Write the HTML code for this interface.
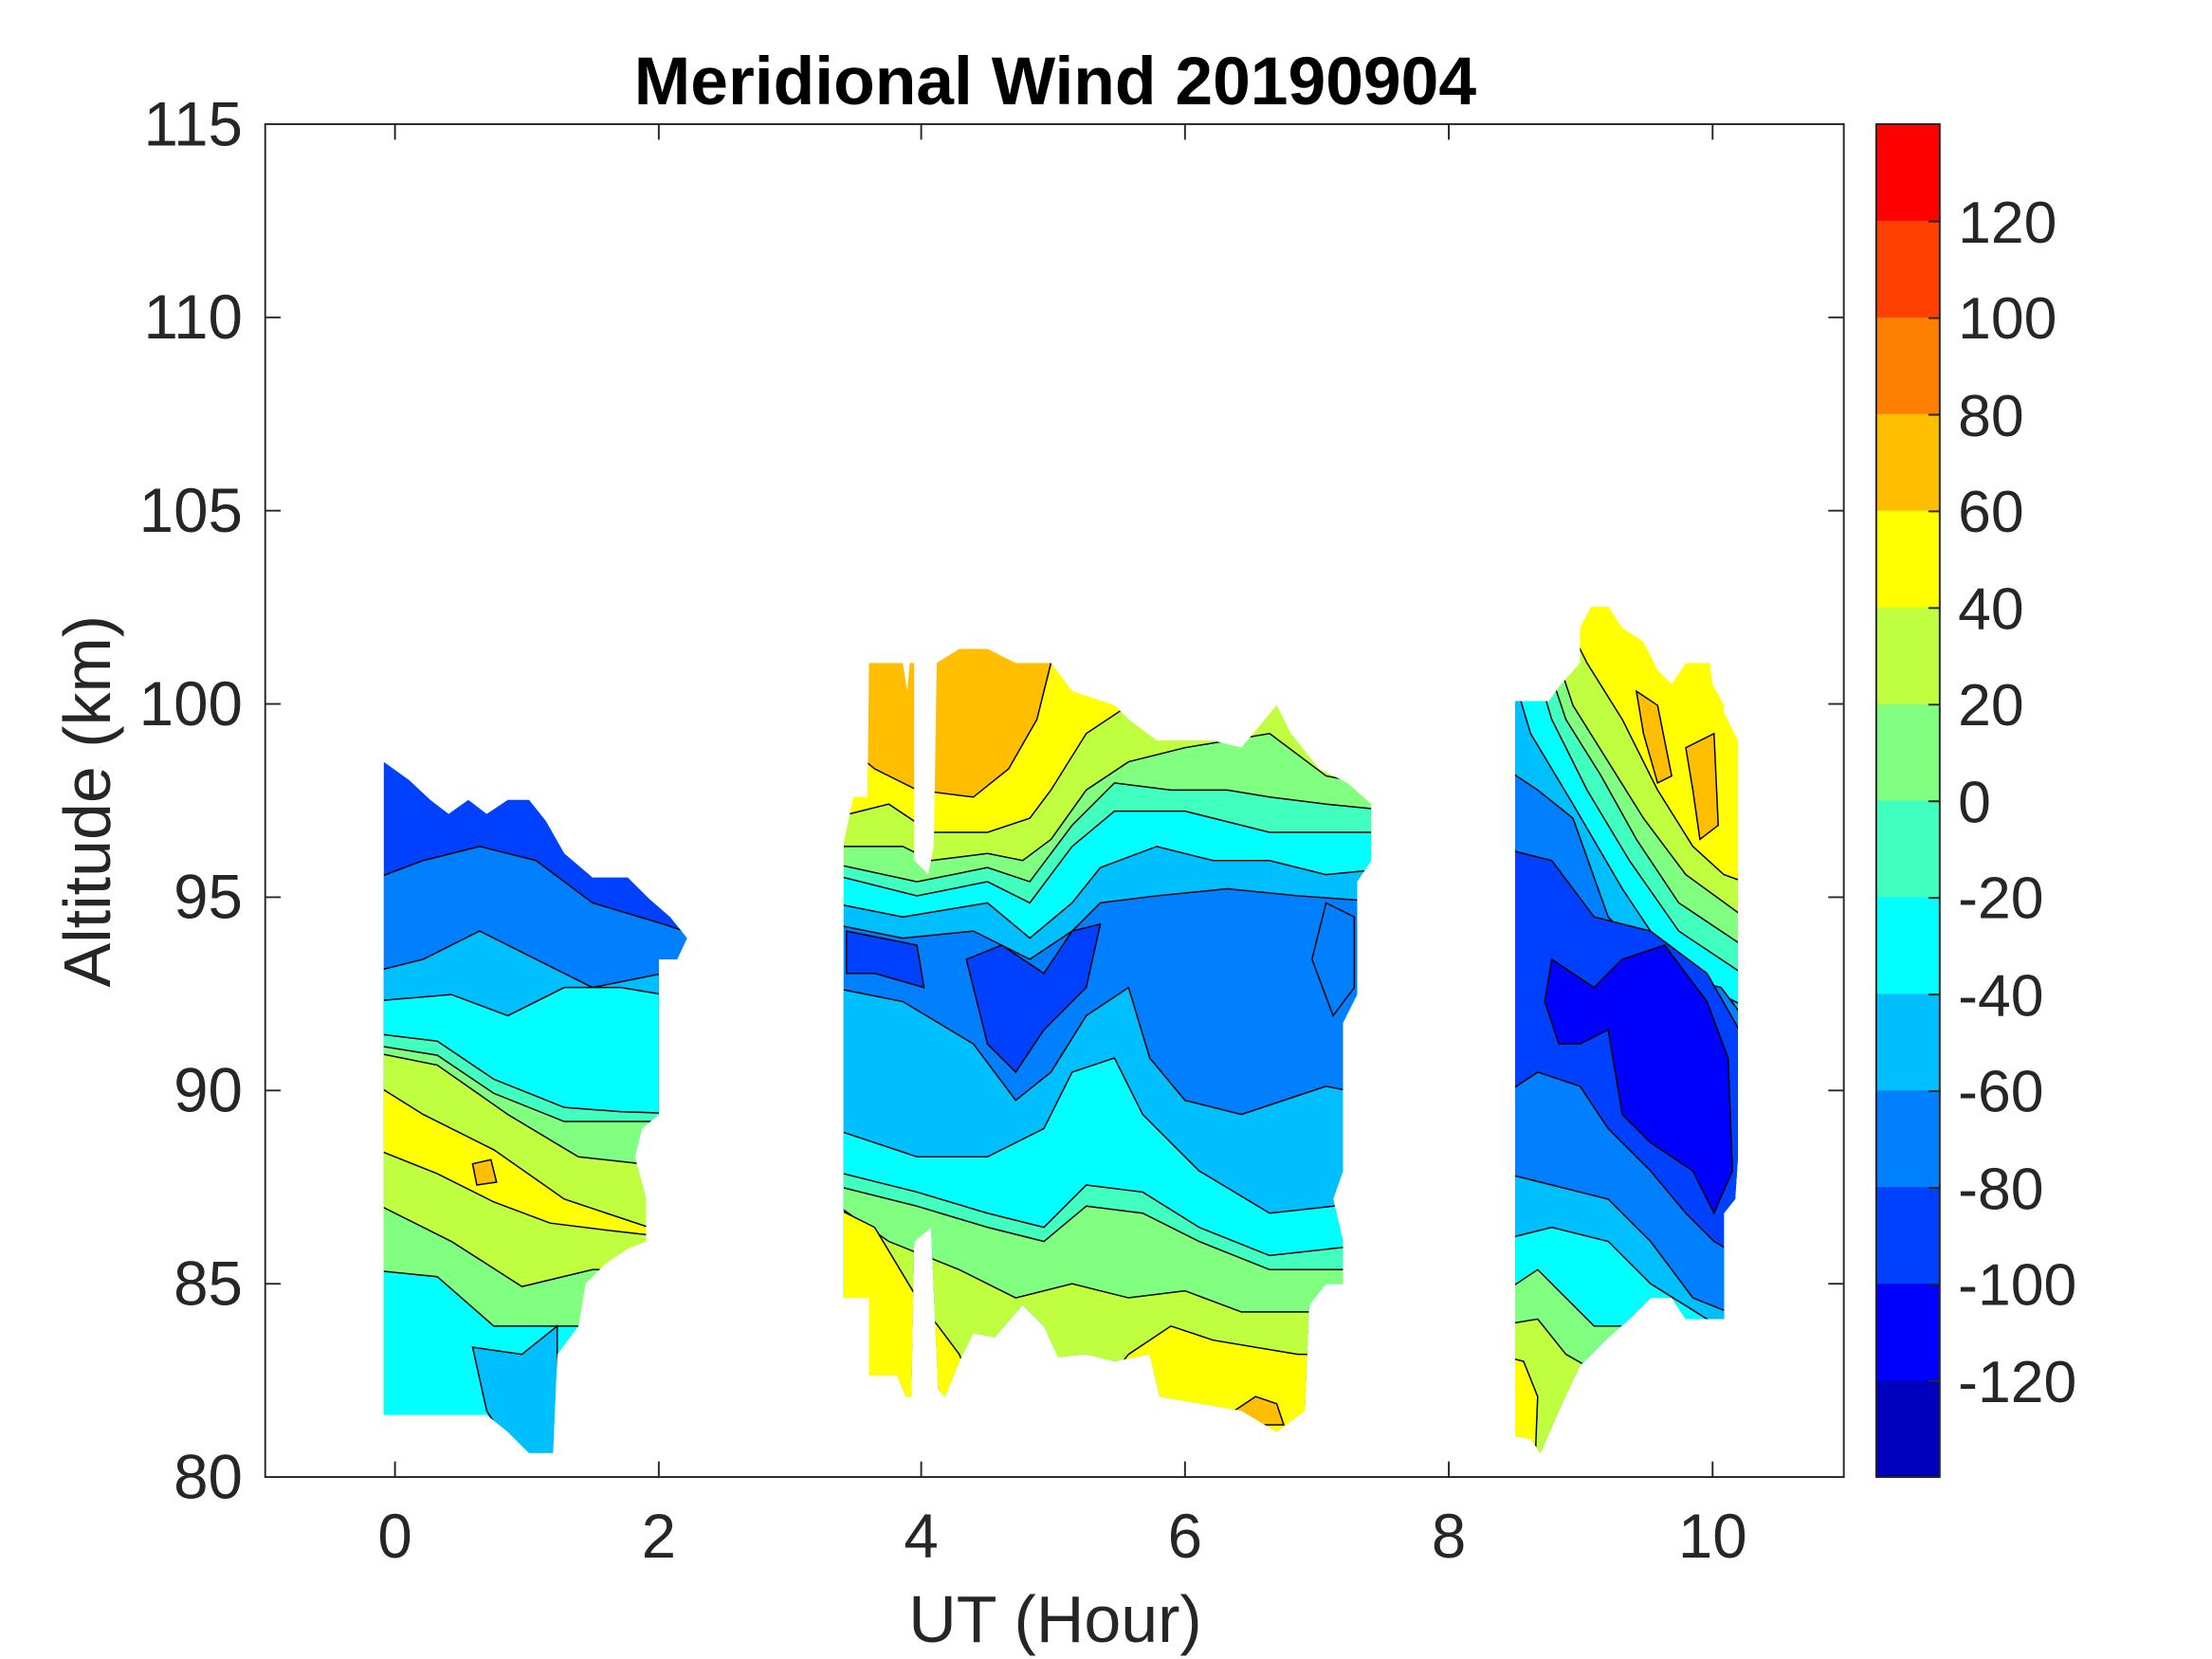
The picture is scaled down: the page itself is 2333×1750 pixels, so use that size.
<!DOCTYPE html>
<html><head><meta charset="utf-8"><style>html,body{margin:0;padding:0;background:#fff}svg{display:block}</style></head>
<body>
<svg width="2333" height="1750" viewBox="0 0 1568 1176" preserveAspectRatio="none" xmlns="http://www.w3.org/2000/svg" font-family="Liberation Sans, sans-serif">
<defs>
<clipPath id="c1"><polygon points="272,540 290,553 305,567 318,577 332,567 345,577 360,567 375,567 387,582 400,605 420,622 445,622 460,637 475,650 487,665 480,680 467,680 467,790 455,800 450,820 458,850 458,880 445,885 430,895 415,910 410,940 395,960 392,1030 375,1030 360,1015 345,1003 272,1003"/></clipPath>
<clipPath id="c2"><polygon points="598,598 605,565 615,565 616,470 640,470 643,490 645,470 648,470 648,610 658,620 662,600 664,470 680,460 700,460 720,470 745,470 760,490 790,500 800,510 820,525 860,525 880,530 905,500 915,520 935,545 955,555 972,570 972,610 962,625 962,705 952,725 952,830 945,850 952,880 952,910 940,910 928,925 925,1000 905,1015 880,1000 822,990 815,960 790,965 770,960 750,962 740,940 725,925 705,948 690,945 680,965 670,990 665,985 660,870 648,880 646,990 642,990 636,975 616,975 616,920 598,920"/></clipPath>
<clipPath id="c3"><polygon points="1074,497 1098,497 1105,487 1120,470 1120,445 1128,430 1140,430 1150,445 1165,455 1175,475 1185,485 1195,470 1212,470 1214,485 1222,500 1222,505 1232,525 1232,820 1230,850 1222,860 1222,935 1195,935 1185,920 1170,920 1155,935 1140,948 1120,968 1105,1000 1092,1030 1085,1020 1074,1018"/></clipPath>
</defs>
<g stroke="#000" stroke-width="1">
<g clip-path="url(#c1)">
<rect x="250" y="500" width="260" height="560" fill="#0040FF"/>
<polygon fill="#0080FF" points="260,625 300,610 340,600 380,610 420,640 470,655 500,665 500,1100 260,1100"/>
<polygon fill="#00BFFF" points="260,690 300,680 340,660 380,680 420,700 470,690 500,690 500,1100 260,1100"/>
<polygon fill="#00FFFF" points="260,710 320,705 360,720 400,700 440,700 470,705 500,705 500,1100 260,1100"/>
<polygon fill="#40FFBF" points="260,732 310,738 350,765 400,785 440,788 500,790 500,1100 260,1100"/>
<polygon fill="#80FF80" points="260,740 310,748 350,775 400,795 440,795 500,795 500,1100 260,1100"/>
<polygon fill="#BFFF40" points="260,745 310,755 360,790 410,820 500,830 500,1100 260,1100"/>
<polygon fill="#FFFF00" points="260,765 300,790 350,815 400,850 460,870 500,880 500,1100 260,1100"/>
<polygon fill="#BFFF40" points="260,812 310,832 350,852 390,867 430,872 500,880 500,1100 260,1100"/>
<polygon fill="#80FF80" points="260,850 320,880 370,912 420,900 500,900 500,1100 260,1100"/>
<polygon fill="#00FFFF" points="260,900 310,905 350,940 400,940 500,940 500,1100 260,1100"/>
<polygon fill="#00BFFF" points="335,955 370,960 395,940 395,1040 370,1040 345,1000"/>
<polygon fill="#FFBF00" points="335,825 348,822 352,838 338,840"/>
</g>
<g clip-path="url(#c2)">
<rect x="580" y="440" width="410" height="600" fill="#FFBF00"/>
<polygon fill="#FFFF00" points="590,520 620,545 650,560 690,565 715,545 735,510 745,470 990,460 990,1100 590,1100"/>
<polygon fill="#BFFF40" points="590,580 630,570 660,590 700,590 730,580 745,560 770,520 800,500 990,490 990,1100 590,1100"/>
<polygon fill="#80FF80" points="590,600 640,600 660,610 700,605 725,610 745,595 770,560 800,540 840,530 900,520 940,550 990,560 990,1100 590,1100"/>
<polygon fill="#40FFBF" points="590,612 650,625 700,615 730,625 760,585 790,555 830,560 870,560 900,565 940,570 990,575 990,1100 590,1100"/>
<polygon fill="#00FFFF" points="590,620 650,635 700,625 730,640 760,600 790,575 840,575 900,590 990,590 990,1100 590,1100"/>
<polygon fill="#00BFFF" points="590,640 640,650 700,640 730,665 760,640 780,615 820,600 860,610 900,610 940,620 990,615 990,1100 590,1100"/>
<polygon fill="#0080FF" points="590,655 640,665 690,660 730,680 760,660 780,640 820,635 870,630 920,635 990,640 990,1100 590,1100"/>
<polygon fill="#0040FF" points="685,680 710,670 740,690 760,660 780,655 770,700 740,730 720,760 700,740 690,700"/>
<polygon fill="#0040FF" points="600,660 650,670 655,700 620,690 600,690"/>
<polygon fill="#00BFFF" points="590,700 640,710 690,740 720,780 745,760 770,720 800,700 815,750 840,780 880,790 940,770 990,780 990,1100 590,1100"/>
<polygon fill="#0080FF" points="940,640 960,650 960,700 945,720 930,680"/>
<polygon fill="#00FFFF" points="590,800 650,820 700,820 740,800 760,760 790,750 810,790 850,830 900,860 990,850 990,1100 590,1100"/>
<polygon fill="#40FFBF" points="590,830 650,845 700,860 740,870 770,840 810,845 850,870 900,890 990,880 990,1100 590,1100"/>
<polygon fill="#80FF80" points="590,840 650,855 700,870 740,880 770,855 810,860 850,880 900,900 990,900 990,1100 590,1100"/>
<polygon fill="#BFFF40" points="590,852 630,880 680,900 720,920 760,910 800,920 840,915 880,930 990,930 990,1100 590,1100"/>
<polygon fill="#FFFF00" points="590,855 620,870 650,920 680,960 700,1010 760,1010 800,960 830,940 860,950 920,960 990,960 990,1100 590,1100"/>
<polygon fill="#BFFF40" points="700,985 720,960 760,970 790,985 800,1020 700,1020"/>
<polygon fill="#FFBF00" points="875,1000 890,990 905,995 910,1010 880,1010"/>
</g>
<g clip-path="url(#c3)">
<rect x="1060" y="400" width="190" height="660" fill="#FFFF00"/>
<polygon fill="#FFBF00" points="1160,490 1175,500 1185,550 1175,555 1165,520"/>
<polygon fill="#FFBF00" points="1195,530 1215,520 1218,585 1205,595 1200,560"/>
<polygon fill="#BFFF40" points="1100,420 1125,470 1150,510 1175,560 1200,600 1222,620 1250,630 1250,1100 1060,1100 1060,400"/>
<polygon fill="#80FF80" points="1095,440 1115,500 1140,540 1165,580 1195,620 1250,660 1250,1100 1060,1100 1060,400"/>
<polygon fill="#40FFBF" points="1090,450 1110,510 1135,550 1160,595 1190,640 1250,680 1250,1100 1060,1100 1060,400"/>
<polygon fill="#00FFFF" points="1085,460 1100,510 1125,560 1155,610 1190,660 1250,700 1250,1100 1060,1100 1060,400"/>
<polygon fill="#00BFFF" points="1070,470 1085,520 1115,570 1150,630 1190,690 1250,720 1250,1100 1060,1100 1060,400"/>
<polygon fill="#0080FF" points="1060,540 1090,560 1115,580 1140,650 1180,690 1220,700 1250,740 1250,1100 1060,1100"/>
<polygon fill="#0040FF" points="1060,600 1100,610 1130,650 1170,660 1210,690 1250,760 1250,1100 1060,1100"/>
<polygon fill="#0000FF" points="1100,680 1130,700 1150,680 1180,670 1210,710 1225,750 1228,830 1215,860 1200,830 1170,810 1150,790 1140,730 1120,740 1105,740 1095,710"/>
<polygon fill="#0080FF" points="1060,780 1090,760 1120,770 1140,800 1170,830 1195,860 1215,880 1250,900 1250,1100 1060,1100"/>
<polygon fill="#00BFFF" points="1060,830 1100,840 1140,850 1170,880 1200,920 1250,940 1250,1100 1060,1100"/>
<polygon fill="#00FFFF" points="1060,880 1100,870 1140,880 1170,910 1250,960 1250,1100 1060,1100"/>
<polygon fill="#80FF80" points="1060,920 1090,900 1110,920 1130,940 1160,940 1250,1000 1250,1100 1060,1100"/>
<polygon fill="#BFFF40" points="1060,940 1090,935 1110,960 1250,1040 1250,1100 1060,1100"/>
<polygon fill="#FFFF00" points="1060,960 1080,965 1090,990 1088,1040 1060,1040"/>
</g>
</g>
<rect x="188" y="88" width="1119" height="959" fill="none" stroke="#262626" stroke-width="1.3"/>
<g stroke="#262626" stroke-width="1.3">
<path d="M280,1047v-11M467,1047v-11M653,1047v-11M840,1047v-11M1027,1047v-11M1214,1047v-11M280,88v11M467,88v11M653,88v11M840,88v11M1027,88v11M1214,88v11"/>
<path d="M188,910h11M188,773h11M188,636h11M188,499h11M188,362h11M188,225h11M1307,910h-11M1307,773h-11M1307,636h-11M1307,499h-11M1307,362h-11M1307,225h-11"/>
</g>
<g font-size="44" fill="#262626" text-anchor="end">
<text x="172" y="1062">80</text><text x="172" y="925">85</text><text x="172" y="788">90</text><text x="172" y="651">95</text><text x="172" y="514">100</text><text x="172" y="377">105</text><text x="172" y="240">110</text><text x="172" y="103">115</text>
</g>
<g font-size="44" fill="#262626" text-anchor="middle">
<text x="280" y="1104">0</text><text x="467" y="1104">2</text><text x="653" y="1104">4</text><text x="840" y="1104">6</text><text x="1027" y="1104">8</text><text x="1214" y="1104">10</text>
<text x="748" y="1164" font-size="47">UT (Hour)</text>
<text x="748" y="74" font-size="48" font-weight="bold" fill="#000">Meridional Wind 20190904</text>
<text transform="translate(78,568) rotate(-90)" font-size="47">Altitude (km)</text>
</g>
<g>
<rect x="1330" y="88" width="45" height="69" fill="#FF0000"/>
<rect x="1330" y="156.5" width="45" height="69" fill="#FF4000"/>
<rect x="1330" y="225" width="45" height="69" fill="#FF8000"/>
<rect x="1330" y="293.5" width="45" height="69" fill="#FFBF00"/>
<rect x="1330" y="362" width="45" height="69" fill="#FFFF00"/>
<rect x="1330" y="430.5" width="45" height="69" fill="#BFFF40"/>
<rect x="1330" y="499" width="45" height="69" fill="#80FF80"/>
<rect x="1330" y="567.5" width="45" height="69" fill="#40FFBF"/>
<rect x="1330" y="636" width="45" height="69" fill="#00FFFF"/>
<rect x="1330" y="704.5" width="45" height="69" fill="#00BFFF"/>
<rect x="1330" y="773" width="45" height="69" fill="#0080FF"/>
<rect x="1330" y="841.5" width="45" height="69" fill="#0040FF"/>
<rect x="1330" y="910" width="45" height="69" fill="#0000FF"/>
<rect x="1330" y="978.5" width="45" height="68.5" fill="#0000BF"/>
<rect x="1330" y="88" width="45" height="959" fill="none" stroke="#262626" stroke-width="1.3"/>
<path d="M1375,157h-8M1375,225.5h-8M1375,294h-8M1375,362.5h-8M1375,431h-8M1375,499.5h-8M1375,568h-8M1375,636.5h-8M1375,705h-8M1375,773.5h-8M1375,842h-8M1375,910.5h-8M1375,979h-8" stroke="#262626" stroke-width="1.3"/>
</g>
<g font-size="42" fill="#262626">
<text x="1388" y="172">120</text><text x="1388" y="240">100</text><text x="1388" y="309">80</text><text x="1388" y="377">60</text><text x="1388" y="446">40</text><text x="1388" y="514">20</text><text x="1388" y="583">0</text><text x="1388" y="651">-20</text><text x="1388" y="720">-40</text><text x="1388" y="788">-60</text><text x="1388" y="857">-80</text><text x="1388" y="925">-100</text><text x="1388" y="994">-120</text>
</g>
</svg>
</body></html>
